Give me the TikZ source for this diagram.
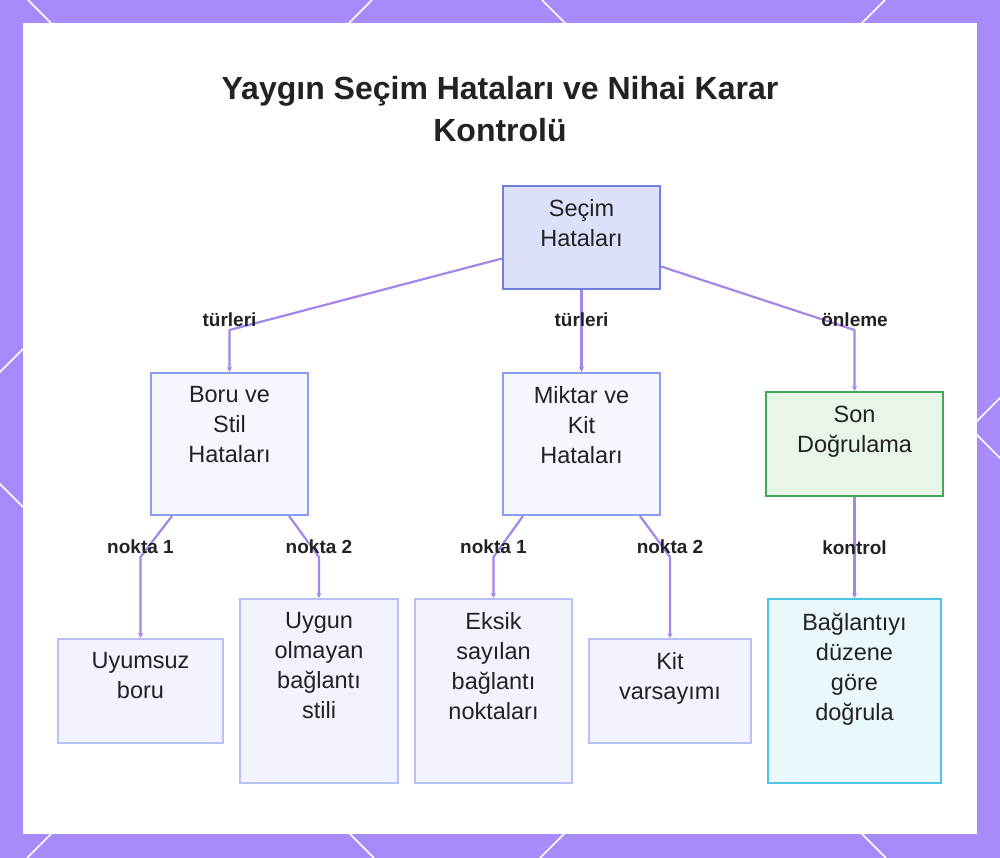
\documentclass[tikz,border=0pt]{standalone}
\usepackage{fontspec}
\setmainfont{Liberation Sans}
\usetikzlibrary{arrows.meta}

\definecolor{cerceve}{HTML}{A78BFA}
\definecolor{cizgi}{HTML}{A286E8}
\definecolor{koyu}{HTML}{222222}
\definecolor{ustdolgu}{HTML}{DCE0FA}
\definecolor{ustkenar}{HTML}{6E80DA}
\definecolor{aradolgu}{HTML}{F5F7FF}
\definecolor{arakenar}{HTML}{8C9DEE}
\definecolor{altdolgu}{HTML}{F1F3FE}
\definecolor{altkenar}{HTML}{B7C1F5}
\definecolor{yesildolgu}{HTML}{E8F5E9}
\definecolor{yesilkenar}{HTML}{43A853}
\definecolor{mavidolgu}{HTML}{EAF7FD}
\definecolor{mavikenar}{HTML}{4FC3E3}

\begin{document}
\begin{tikzpicture}[x=1pt, y=-1pt]

    % stiller
    \tikzset{
        kutu/.style={draw=#1, line width=2pt, inner sep=0pt, anchor=north west},
        kmetin/.style={font=\fontsize{23.5}{30}\selectfont, text=koyu, align=center,
            anchor=north, inner sep=0pt, label distance=-14.5pt},
        yazi/.style={label={[kmetin]north:#1}},
        baglac/.style={draw=cizgi, line width=2.2pt, line join=round,
            -{Stealth[length=5pt, width=5pt]}},
        etiket/.style={font=\fontsize{19}{22}\selectfont\bfseries, text=koyu, inner sep=0pt}
    }

    \useasboundingbox (0,0) rectangle (1000,858);

    % arka plan ve çerçeve
    \fill[cerceve] (0,0) rectangle (1000,858);
    \begin{scope}
        \clip (0,0) rectangle (1000,858);
        \foreach \c in {-484,28,542} {
            \draw[white, line width=1.5pt] (\c,0) -- ++(858,858);
        }
        \foreach \d in {372,885,1398} {
            \draw[white, line width=1.5pt] (\d,0) -- ++(-858,858);
        }
    \end{scope}
    \fill[white] (23,23) rectangle (977,834);

    % başlık
    \node[font=\fontsize{32}{42}\selectfont\bfseries, text=koyu, align=center, inner sep=0pt]
        (baslik) at (500,109) {Yaygın Seçim Hataları ve Nihai Karar\\Kontrolü};

    % --- kutular ---
    % üst düzey
    \node[kutu=ustkenar, fill=ustdolgu, minimum width=157pt, minimum height=103pt,
        yazi={Seçim\\Hataları}] (secim) at (502,185) {};

    % orta düzey
    \node[kutu=arakenar, fill=aradolgu, minimum width=157pt, minimum height=142pt,
        yazi={Boru ve\\Stil\\Hataları}] (boru) at (150,372) {};
    \node[kutu=arakenar, fill=aradolgu, minimum width=157pt, minimum height=142pt,
        yazi={Miktar ve\\Kit\\Hataları}] (miktar) at (502,372) {};
    \node[kutu=yesilkenar, fill=yesildolgu, minimum width=177pt, minimum height=104pt,
        yazi={Son\\Doğrulama}] (son) at (765,391) {};

    % alt düzey
    \node[kutu=altkenar, fill=altdolgu, minimum width=165pt, minimum height=104pt,
        yazi={Uyumsuz\\boru}] (uyumsuz) at (57,638) {};
    \node[kutu=altkenar, fill=altdolgu, minimum width=158pt, minimum height=184pt,
        yazi={Uygun\\olmayan\\bağlantı\\stili}] (uygun) at (239,598) {};
    \node[kutu=altkenar, fill=altdolgu, minimum width=157pt, minimum height=184pt,
        yazi={Eksik\\sayılan\\bağlantı\\noktaları}] (eksik) at (414,598) {};
    \node[kutu=altkenar, fill=altdolgu, minimum width=162pt, minimum height=104pt,
        yazi={Kit\\varsayımı}] (kit) at (588,638) {};
    \node[kutu=mavikenar, fill=mavidolgu, minimum width=173pt, minimum height=184pt,
        yazi={Bağlantıyı\\düzene\\göre\\doğrula}] (baglanti) at (767,598) {};

    % --- bağlantılar ---
    \draw[baglac] ([yshift=-21pt]secim.west) -- ([yshift=42pt]boru.north)
        node[etiket, yshift=10pt] {türleri} -- (boru.north);
    \draw[baglac] (secim.south) -- ([yshift=42pt]miktar.north)
        node[etiket, yshift=10pt] {türleri} -- (miktar.north);
    \draw[baglac] ([yshift=-29pt]secim.east) -- ([yshift=61pt]son.north)
        node[etiket, yshift=10pt] {önleme} -- (son.north);

    \draw[baglac] ([xshift=22pt]boru.south west) -- ([yshift=81pt]uyumsuz.north)
        node[etiket, yshift=10pt] {nokta 1} -- (uyumsuz.north);
    \draw[baglac] ([xshift=-20pt]boru.south east) -- ([yshift=41pt]uygun.north)
        node[etiket, yshift=10pt] {nokta 2} -- (uygun.north);
    \draw[baglac] ([xshift=21pt]miktar.south west) -- ([yshift=41pt]eksik.north)
        node[etiket, yshift=10pt] {nokta 1} -- (eksik.north);
    \draw[baglac] ([xshift=-21pt]miktar.south east) -- ([yshift=81pt]kit.north)
        node[etiket, yshift=10pt] {nokta 2} -- (kit.north);
    \draw[baglac] (son.south) -- node[etiket] {kontrol} (baglanti.north);

\end{tikzpicture}
\end{document}
